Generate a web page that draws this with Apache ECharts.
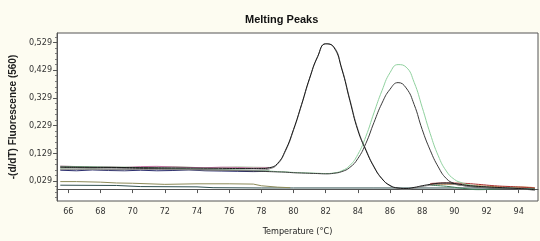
<!DOCTYPE html>
<html>
<head>
<meta charset="utf-8">
<script src="https://cdn.jsdelivr.net/npm/echarts@6/dist/echarts.min.js"></script>
<style>
  html, body { margin: 0; padding: 0; background: #fdfcf1; }
  #chart-melt { width: 540px; height: 241px; }
</style>
</head>
<body>
<div id="chart-melt"></div>
<script>
// temperatures (deg C) for the full curves
var temps = [65.5, 67, 69, 71, 73, 75, 77, 78, 78.5, 79, 79.5, 80, 80.5, 81, 81.5, 82, 82.5, 83, 83.5, 84,
             84.5, 85, 85.5, 86, 86.5, 87, 87.5, 88, 88.5, 89, 89.5, 90, 90.5, 91, 92, 93, 94, 95];

// peak near 82 C
var peak82a = [0.080, 0.079, 0.078, 0.077, 0.076, 0.075, 0.074, 0.074, 0.077, 0.092, 0.140, 0.215, 0.305, 0.400, 0.478, 0.524, 0.512, 0.433, 0.320, 0.212,
               0.140, 0.080, 0.037, 0.013, 0.004, 0.002, 0.006, 0.012, 0.017, 0.021, 0.022, 0.020, 0.016, 0.012, 0.008, 0.005, 0.002, -0.002];
var peak82b = [0.072, 0.071, 0.070, 0.071, 0.070, 0.069, 0.068, 0.069, 0.073, 0.089, 0.137, 0.212, 0.303, 0.398, 0.477, 0.524, 0.514, 0.436, 0.324, 0.216,
               0.143, 0.082, 0.038, 0.012, 0.002, 0.000, 0.003, 0.009, 0.014, 0.018, 0.019, 0.017, 0.013, 0.010, 0.006, 0.004, 0.001, -0.004];

// peaks near 86.5 C
var peak86green = [0.082, 0.081, 0.079, 0.077, 0.074, 0.071, 0.068, 0.066, 0.065, 0.063, 0.062, 0.060, 0.059, 0.058, 0.057, 0.056, 0.058, 0.066, 0.085, 0.125,
                   0.190, 0.275, 0.355, 0.420, 0.449, 0.440, 0.385, 0.295, 0.200, 0.120, 0.065, 0.035, 0.022, 0.014, 0.007, 0.004, 0.002, -0.002];
var peak86black = [0.078, 0.077, 0.076, 0.074, 0.072, 0.069, 0.066, 0.064, 0.063, 0.062, 0.061, 0.059, 0.058, 0.057, 0.056, 0.055, 0.057, 0.063, 0.078, 0.110,
                   0.165, 0.240, 0.310, 0.360, 0.384, 0.365, 0.305, 0.215, 0.140, 0.080, 0.038, 0.020, 0.013, 0.009, 0.005, 0.003, 0.001, -0.003];

// flat samples on the left
var tempsLeft = [65.5, 66.5, 67.5, 68.5, 69.5, 70.5, 71.5, 72.5, 73.5, 74.5, 75.5, 76.5, 77.5, 78.5];
var flatPink  = [0.083, 0.081, 0.079, 0.080, 0.078, 0.081, 0.082, 0.080, 0.078, 0.077, 0.079, 0.078, 0.076, 0.077];
var flatGreen = [0.075, 0.077, 0.076, 0.078, 0.079, 0.078, 0.080, 0.081, 0.079, 0.076, 0.078, 0.080, 0.079, 0.078];
var flatNavy  = [0.068, 0.066, 0.069, 0.067, 0.066, 0.068, 0.066, 0.067, 0.069, 0.066, 0.065, 0.064, 0.063, 0.064];
var flatGray  = [0.071, 0.072, 0.073, 0.071, 0.070, 0.072, 0.074, 0.072, 0.071, 0.070, 0.069, 0.068, 0.067, 0.068];

// flat samples on the right
var tempsRight = [88.5, 89.5, 90.5, 91.5, 92.5, 93.5, 94.5, 95];
var tailRed    = [0.020, 0.022, 0.021, 0.017, 0.012, 0.009, 0.006, 0.004];
var tailGreen  = [0.014, 0.010, 0.003, -0.002, 0.000, 0.003, 0.004, 0.002];
var tailOrange = [0.016, 0.017, 0.015, 0.012, 0.009, 0.008, 0.007, 0.005];

// low lines
var tempsOlive = [65.5, 66.5, 68, 69, 70, 72, 74, 76, 77.5, 78, 79, 79.8];
var lowOlive   = [0.027, 0.027, 0.025, 0.022, 0.021, 0.017, 0.019, 0.019, 0.018, 0.012, 0.007, 0.005];
var tempsTeal  = [65.5, 69, 70.5, 74, 75, 78, 80, 85, 90, 95];
var lowTeal    = [0.014, 0.013, 0.009, 0.008, 0.005, 0.004, 0.004, 0.004, 0.004, 0.003];

// axis labels
var xTicks = [66, 68, 70, 72, 74, 76, 78, 80, 82, 84, 86, 88, 90, 92, 94];
var yTicks = [0.029, 0.129, 0.229, 0.329, 0.429, 0.529];
var yMinor = [-0.031, -0.011, 0.009, 0.049, 0.069, 0.089, 0.109, 0.149, 0.169, 0.189, 0.209, 0.249, 0.269, 0.289, 0.309,
              0.349, 0.369, 0.389, 0.409, 0.449, 0.469, 0.489, 0.509, 0.549];

function pairs(xs, ys){
    var out = [];
    for (var i = 0; i < xs.length; i++) out.push([xs[i], ys[i]]);
    return out;
}

function line(xs, ys, color, smooth, width){
    return {
        type: 'line',
        data: pairs(xs, ys),
        showSymbol: false,
        symbol: 'none',
        smooth: smooth,
        lineStyle: { color: color, width: width || 1 }
    };
}

var narrow = '"DejaVu Sans Condensed", "Liberation Sans Narrow", "Liberation Sans", sans-serif';

echarts.init(document.getElementById('chart-melt')).setOption({
    animation: false,
    backgroundColor: '#fdfcf1',
    title: {
        text: 'Melting Peaks',
        left: 240,
        top: 9,
        textStyle: { fontFamily: 'Liberation Sans, sans-serif', fontSize: 11, fontWeight: 'bold', color: '#111' }
    },
    grid: {
        left: 51, right: 2, top: 33, bottom: 33,
        show: true,
        backgroundColor: '#fff',
        borderColor: '#555',
        borderWidth: 1
    },
    xAxis: {
        type: 'value',
        min: 65.3,
        max: 95.2,
        name: 'Temperature (\u00b0C)',
        nameLocation: 'middle',
        nameGap: 26,
        nameTextStyle: { fontFamily: narrow, fontSize: 9, color: '#222' },
        splitLine: { show: false },
        axisLine: { lineStyle: { color: '#555' } },
        axisTick: { customValues: xTicks, length: 4, lineStyle: { color: '#555' } },
        axisLabel: { customValues: xTicks, fontFamily: narrow, fontSize: 9, color: '#333', margin: 6 }
    },
    yAxis: [
        {
            type: 'value',
            min: -0.043,
            max: 0.563,
            name: '-(d/dT) Fluorescence (560)',
            nameLocation: 'middle',
            nameGap: 37,
            nameTextStyle: { fontFamily: 'Liberation Sans, sans-serif', fontSize: 10, fontWeight: 'bold', color: '#222' },
            splitLine: { show: false },
            axisLine: { show: true, lineStyle: { color: '#555' } },
            axisTick: { show: true, customValues: yTicks, length: 4, lineStyle: { color: '#555' } },
            axisLabel: {
                customValues: yTicks,
                fontFamily: narrow, fontSize: 9, color: '#333', margin: 5,
                formatter: function(v){ return v.toFixed(3).replace('.', ','); }
            }
        },
        {
            type: 'value',
            min: -0.043,
            max: 0.563,
            position: 'left',
            splitLine: { show: false },
            axisLine: { show: false },
            axisTick: { show: true, customValues: yMinor, length: 2, lineStyle: { color: '#777' } },
            axisLabel: { show: false }
        }
    ],
    series: [
        line(tempsTeal, lowTeal, '#2f4f4f', false),
        line(tempsOlive, lowOlive, '#8c8a58', false),
        line(tempsLeft, flatNavy, '#2b2d6e', false),
        line(tempsLeft, flatGray, '#9a9a9a', false),
        line(tempsLeft, flatGreen, '#a8c8a0', false),
        line(tempsLeft, flatPink, '#c070a0', false),
        line(tempsRight, tailGreen, '#3f7f5a', true),
        line(tempsRight, tailOrange, '#c89050', true),
        line(tempsRight, tailRed, '#a83030', true),
        line(temps, peak86green, '#8fd19e', true),
        line(temps, peak86black, '#3a3a3a', true),
        line(temps, peak82b, '#8a8a8a', true),
        line(temps, peak82a, '#1a1a1a', true)
    ]
});
</script>
</body>
</html>
